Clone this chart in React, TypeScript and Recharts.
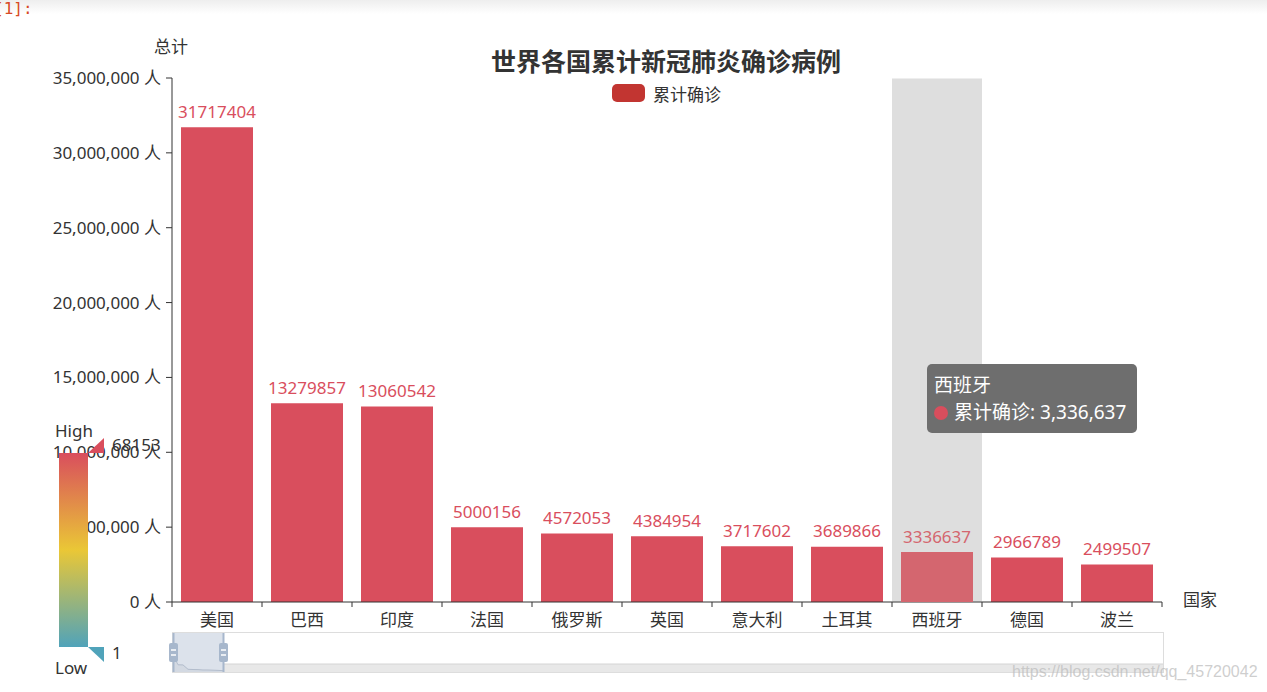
import React from 'react';
import {
  BarChart,
  Bar,
  Cell,
  XAxis,
  YAxis,
  Tooltip,
  LabelList,
  AreaChart,
  Area,
} from 'recharts';

const countries = ['美国', '巴西', '印度', '法国', '俄罗斯', '英国', '意大利', '土耳其', '西班牙', '德国', '波兰'];
const confirmed = [31717404, 13279857, 13060542, 5000156, 4572053, 4384954, 3717602, 3689866, 3336637, 2966789, 2499507];
const yTicks = [0, 5000000, 10000000, 15000000, 20000000, 25000000, 30000000, 35000000];
const seriesName = '累计确诊';
const titleText = '世界各国累计新冠肺炎确诊病例';
const yAxisName = '总计';
const xAxisName = '国家';
const visualMapText = { high: 'High', low: 'Low', max: '68153', min: '1' };
const activeIndex = 8;

const data = countries.map((name, i) => ({ name, value: confirmed[i] }));

const FONT = '"Noto Sans", "Noto Sans CJK SC", sans-serif';
const BAR = '#d94e5d';
const BAR_ACTIVE = '#d4666f';
const TEXT = '#333';
const HALF_BAND = 990 / countries.length / 2;

const XTick = (props: any) => {
  const { x, y, payload, index } = props;
  return (
    <g>
      <line x1={x - HALF_BAND} x2={x - HALF_BAND} y1={y - 5} y2={y} stroke={TEXT} />
      {index === countries.length - 1 && (
        <line x1={x + HALF_BAND} x2={x + HALF_BAND} y1={y - 5} y2={y} stroke={TEXT} />
      )}
      <text x={x} y={y + 12} textAnchor="middle" dominantBaseline="central" fill={TEXT} fontSize={17} fontFamily={FONT}>
        {payload.value}
      </text>
    </g>
  );
};

const renderLabel = (props: any) => {
  const { x, y, width, value } = props;
  const fill = value === confirmed[activeIndex] ? BAR_ACTIVE : BAR;
  return (
    <text x={x + width / 2} y={y - 16} textAnchor="middle" dominantBaseline="central" fill={fill} fontSize={17} fontFamily={FONT}>
      {value}
    </text>
  );
};

const TipContent = ({ active, payload, label }: any) => {
  if (!active || !payload || !payload.length) return null;
  return (
    <div
      style={{
        background: '#6e6e6e',
        borderRadius: 5,
        width: 210,
        height: 69,
        boxSizing: 'border-box',
        padding: '8px 7px',
        color: '#fff',
        fontFamily: FONT,
        fontSize: 19,
        lineHeight: '27px',
        whiteSpace: 'nowrap',
      }}
    >
      <div>{label}</div>
      <div style={{ display: 'flex', alignItems: 'center' }}>
        <span style={{ width: 14, height: 14, borderRadius: 7, background: BAR, marginRight: 6, display: 'inline-block' }} />
        <span>
          {seriesName}: {Number(payload[0].value).toLocaleString('en-US')}
        </span>
      </div>
    </div>
  );
};

export default function App() {
  return (
    <div style={{ position: 'absolute', left: 0, top: 0, width: 1267, height: 692, background: '#fff', fontFamily: FONT, overflow: 'hidden' }}>
      <div style={{ position: 'absolute', left: 0, top: 0, width: 1267, height: 14, background: 'linear-gradient(#eeeeee, #ffffff)' }} />
      <div style={{ position: 'absolute', left: -6, top: -1, color: '#d84a25', fontFamily: '"DejaVu Sans Mono", monospace', fontSize: 16 }}>[1]:</div>

      <div style={{ position: 'absolute', left: 466, top: 46, width: 400, textAlign: 'center', fontSize: 25, fontWeight: 'bold', color: TEXT, lineHeight: '30px' }}>
        {titleText}
      </div>
      <div style={{ position: 'absolute', left: 612, top: 84, display: 'flex', alignItems: 'center', height: 18 }}>
        <span style={{ width: 33, height: 18, borderRadius: 5, background: '#c23531', display: 'inline-block' }} />
        <span style={{ marginLeft: 8, fontSize: 17, color: TEXT }}>{seriesName}</span>
      </div>
      <div style={{ position: 'absolute', left: 154, top: 36, fontSize: 17, color: TEXT, lineHeight: '22px' }}>{yAxisName}</div>
      <div style={{ position: 'absolute', left: 1183, top: 589, fontSize: 17, color: TEXT, lineHeight: '22px' }}>{xAxisName}</div>

      <div style={{ position: 'absolute', left: 0, top: 0 }}>
        <BarChart width={1267} height={692} data={data} margin={{ top: 78, right: 105, bottom: 50, left: 52 }} barCategoryGap="10%">
          <Tooltip
            active
            defaultIndex={activeIndex}
            position={{ x: 927, y: 364 }}
            cursor={{ fill: '#dedede' }}
            content={<TipContent />}
            isAnimationActive={false}
            wrapperStyle={{ outline: 'none' }}
          />
          <XAxis
            dataKey="name"
            height={40}
            tickSize={5}
            tickMargin={0}
            tickLine={false}
            axisLine={{ stroke: TEXT }}
            tick={<XTick />}
            interval={0}
          />
          <YAxis
            width={120}
            domain={[0, 35000000]}
            ticks={yTicks}
            tickSize={6}
            tickMargin={5}
            tickLine={{ stroke: TEXT }}
            axisLine={{ stroke: TEXT }}
            tick={{ fill: TEXT, fontSize: 17, fontFamily: FONT }}
            tickFormatter={(v: number) => `${v.toLocaleString('en-US')} 人`}
          />
          <Bar dataKey="value" name={seriesName} isAnimationActive={false} activeBar={{ fill: BAR_ACTIVE }}>
            {data.map((d, i) => (
              <Cell key={d.name} fill={i === activeIndex ? BAR_ACTIVE : BAR} />
            ))}
            <LabelList dataKey="value" content={renderLabel} />
          </Bar>
        </BarChart>
      </div>

      {/* visualMap */}
      <svg width={1267} height={692} style={{ position: 'absolute', left: 0, top: 0, pointerEvents: 'none' }}>
        <defs>
          <linearGradient id="vmGrad" x1="0" y1="0" x2="0" y2="1">
            <stop offset="0" stopColor="#d94e5d" />
            <stop offset="0.5" stopColor="#eac736" />
            <stop offset="1" stopColor="#50a3ba" />
          </linearGradient>
        </defs>
        <rect x={59} y={453} width={29} height={194} fill="url(#vmGrad)" />
        <polygon points="88,453 104,438 104,453" fill="#d94e5d" />
        <polygon points="88,647 104,647 104,662" fill="#50a3ba" />
        <g fontFamily={FONT} fontSize={17} fill={TEXT} dominantBaseline="central">
          <text x={55} y={430}>{visualMapText.high}</text>
          <text x={112} y={444}>{visualMapText.max}</text>
          <text x={55} y={667}>{visualMapText.low}</text>
          <text x={112} y={652}>{visualMapText.min}</text>
        </g>
      </svg>

      {/* dataZoom */}
      <svg width={1267} height={692} style={{ position: 'absolute', left: 0, top: 0, pointerEvents: 'none' }}>
        <rect x={223} y={664} width={940} height={8} fill="#e8e8e8" />
        <line x1={223} x2={1163} y1={664} y2={664} stroke="#d4d4d4" />
      </svg>
      <div style={{ position: 'absolute', left: 173, top: 634 }}>
        <AreaChart width={50} height={38} data={data} margin={{ top: 0, right: 0, bottom: 0, left: 0 }}>
          <XAxis dataKey="name" hide />
          <YAxis hide domain={[0, 70000000]} />
          <Area dataKey="value" type="linear" stroke="#b9c0cb" fill="#e6e6e6" isAnimationActive={false} />
        </AreaChart>
      </div>
      <svg width={1267} height={692} style={{ position: 'absolute', left: 0, top: 0, pointerEvents: 'none' }}>
        <rect x={172.5} y={632.5} width={991} height={40} fill="none" stroke="#dddddd" />
        <rect x={173} y={633} width={50} height={39} fill="rgba(167,183,204,0.4)" />
        <line x1={173.5} x2={173.5} y1={633} y2={672} stroke="#a7b7cc" strokeWidth={2} />
        <line x1={223.5} x2={223.5} y1={633} y2={672} stroke="#a7b7cc" strokeWidth={2} />
        <rect x={169} y={643} width={9} height={19} rx={2} fill="#a7b7cc" />
        <rect x={219} y={643} width={9} height={19} rx={2} fill="#a7b7cc" />
        <g stroke="#fff" strokeWidth={1.5}>
          <line x1={171} x2={176} y1={650} y2={650} />
          <line x1={171} x2={176} y1={655} y2={655} />
          <line x1={221} x2={226} y1={650} y2={650} />
          <line x1={221} x2={226} y1={655} y2={655} />
        </g>
      </svg>

      <div style={{ position: 'absolute', left: 1012, top: 663, fontFamily: '"Liberation Sans", Arial, sans-serif', fontSize: 16, color: 'rgba(190,190,190,0.75)' }}>
        https://blog.csdn.net/qq_45720042
      </div>
    </div>
  );
}
